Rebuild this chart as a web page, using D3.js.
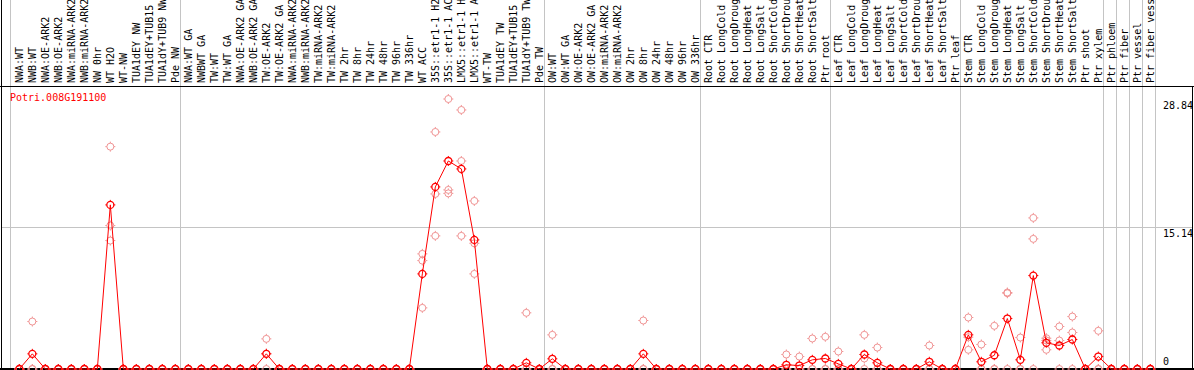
<!DOCTYPE html>
<html>
<head>
<meta charset="utf-8">
<script src="https://cdn.jsdelivr.net/npm/d3@7"></script>
<style>
  body { margin: 0; background: #fff; }
  text { font-family: "DejaVu Sans Mono", monospace; }
</style>
</head>
<body>
<div id="chart"></div>
<script>
// gene shown in the plot
const geneName = "Potri.008G191100";

// sample names, one per column
const samples = [
  "NWA:WT", "NWB:WT", "NWA:OE-ARK2", "NWB:OE-ARK2", "NWA:miRNA-ARK2", "NWB:miRNA-ARK2",
  "NW 0hr", "WT H2O", "WT-NW", "TUA1dEY NW", "TUA1dEY+TUB15 NW", "TUA1dY+TUB9 NW", "Pde NW",
  "NWA:WT GA", "NWBWT GA", "TW:WT", "TW:WT GA", "NWA:OE-ARK2 GA", "NWB:OE-ARK2 GA",
  "TW:OE-ARK2", "TW:OE-ARK2 GA", "NWA:miRNA-ARK2", "NWB:miRNA-ARK2", "TW:miRNA-ARK2",
  "TW:miRNA-ARK2", "TW 2hr", "TW 8hr", "TW 24hr", "TW 48hr", "TW 96hr", "TW 336hr",
  "WT ACC", "35S::etr1-1 H2O", "35S::etr1-1 ACC", "LMX5::etr1-1 H2O", "LMX5::etr1-1 ACC",
  "WT-TW", "TUA1dEY TW", "TUA1dEY+TUB15 TW", "TUA1dY+TUB9 TW", "Pde TW",
  "OW:WT", "OW:WT GA", "OW:OE-ARK2", "OW:OE-ARK2 GA", "OW:miRNA-ARK2", "OW:miRNA-ARK2",
  "OW 2hr", "OW 8hr", "OW 24hr", "OW 48hr", "OW 96hr", "OW 336hr",
  "Root CTR", "Root LongCold", "Root LongDrought", "Root LongHeat", "Root LongSalt",
  "Root ShortCold", "Root ShortDrought", "Root ShortHeat", "Root ShortSalt", "Ptr root",
  "Leaf CTR", "Leaf LongCold", "Leaf LongDrought", "Leaf LongHeat", "Leaf LongSalt",
  "Leaf ShortCold", "Leaf ShortDrought", "Leaf ShortHeat", "Leaf ShortSalt", "Ptr leaf",
  "Stem CTR", "Stem LongCold", "Stem LongDrought", "Stem LongHeat", "Stem LongSalt",
  "Stem ShortCold", "Stem ShortDrought", "Stem ShortHeat", "Stem ShortSalt", "Ptr shoot",
  "Ptr xylem", "Ptr phloem", "Ptr fiber", "Ptr vessel", "Ptr fiber vessel"
];

// last column index of each sample group (a grey separator follows it)
const groupEnds = [12, 40, 52, 62, 72, 83, 84, 85, 86, 87];

// mean expression per sample (the red line)
const meanValues = [
  0, 1.62, 0, 0, 0, 0, 0, 17.53, 0, 0,
  0, 0, 0, 0, 0, 0, 0, 0, 0, 1.62,
  0, 0, 0, 0, 0, 0, 0, 0, 0, 0,
  0, 10.16, 19.45, 22.22, 21.37, 13.79, 0, 0, 0, 0.66,
  0, 1.09, 0, 0, 0, 0, 0, 0, 1.62, 0,
  0, 0, 0, 0, 0, 0, 0, 0, 0, 0.45,
  0.37, 0.98, 1.12, 0.55, 0, 1.55, 0.66, 0, 0, 0,
  0.77, 0, 0, 3.65, 0.77, 1.47, 5.39, 0.98, 9.98, 2.8,
  2.51, 3.15, 0, 1.33, 0, 0, 0, 0
];

// replicate values (pink circles)
const rep1 = [
  0, 5.07, 0, 0, 0, 0, 0, 23.75, 0, 0,
  0, 0, 0, 0, 0, 0, 0, 0, 0, 3.22,
  0, 0, 0, 0, 0, 0, 0, 0, 0, 0,
  0, 12.3, 25.32, 28.84, 27.67, 17.95, 0, 0, 0, 6.0,
  0, 3.65, 0, 0, 0, 0, 0, 0, 5.18, 0,
  0, 0, 0, 0, 0, 0, 0, 0, 0, 1.55,
  1.33, 3.26, 3.44, 1.87, 0, 3.65, 2.29, 0, 0, 0,
  2.51, 0, 0, 5.5, 2.62, 4.61, 8.09, 3.36, 16.14, 3.29,
  4.54, 5.6, 0, 4.08, 0, 0, 0, 0
];
const rep2 = [
  0, 0, 0, 0, 0, 0, 0, 15.32, 0, 0,
  0, 0, 0, 0, 0, 0, 0, 0, 0, 1.64,
  0, 0, 0, 0, 0, 0, 0, 0, 0, 0,
  0, 11.58, 18.7, 19.13, 22.22, 13.43, 0, 0, 0, 0,
  0, 0, 0, 0, 0, 0, 0, 0, 0, 0,
  0, 0, 0, 0, 0, 0, 0, 0, 0, 0,
  0, 0, 0, 0, 0, 1.12, 0, 0, 0, 0,
  0, 0, 0, 2.05, 0, 0, 8.17, 0, 13.9, 2.05,
  3.04, 3.9, 0, 0, 0, 0, 0, 0
];
const rep3 = [
  0, 0, 0, 0, 0, 0, 0, 13.72, 0, 0,
  0, 0, 0, 0, 0, 0, 0, 0, 0, 0,
  0, 0, 0, 0, 0, 0, 0, 0, 0, 0,
  0, 6.53, 14.22, 18.76, 14.22, 10.16, 0, 0, 0, 0,
  0, 0, 0, 0, 0, 0, 0, 0, 0, 0,
  0, 0, 0, 0, 0, 0, 0, 0, 0, 0,
  0, 0, 0, 0, 0, 0, 0, 0, 0, 0,
  0, 0, 0, 3.4, 0, 0, 0, 0, 0, 3.05,
  0, 0, 0, 0, 0, 0, 0, 0
];

// y labels on the right
const yTicks = [0, 15.14, 28.84];

let width = 1194, height = 370;
let margin = {top: 86, bottom: 1, left: 1, right: 2};

let svg = d3.select("#chart")
  .append("svg")
  .attr("width", width)
  .attr("height", height)
  .style("display", "block");

// columns are evenly spaced points
let xScale = d3.scalePoint()
  .domain(d3.range(samples.length))
  .range([19.33, 19.33 + 13 * (samples.length - 1)]);

let yScale = d3.scaleLinear()
  .domain([0, d3.max(yTicks)])
  .range([369, 99]);

// grey group separators (also one before the first column)
let sepX = [xScale(0) - 9].concat(groupEnds.map(i => xScale(i) + 5));
svg.selectAll(".sep")
  .data(sepX)
  .enter()
  .append("line")
  .attr("x1", d => Math.round(d) + 0.5)
  .attr("x2", d => Math.round(d) + 0.5)
  .attr("y1", 0)
  .attr("y2", height)
  .attr("stroke", "#c4c4c4")
  .attr("shape-rendering", "crispEdges");

// horizontal grid at the middle tick
svg.append("line")
  .attr("x1", margin.left)
  .attr("x2", width - margin.right)
  .attr("y1", Math.round(yScale(yTicks[1])) + 0.5)
  .attr("y2", Math.round(yScale(yTicks[1])) + 0.5)
  .attr("stroke", "#c4c4c4")
  .attr("shape-rendering", "crispEdges");

// frame
svg.append("line")
  .attr("x1", 0).attr("x2", width)
  .attr("y1", margin.top + 0.5).attr("y2", margin.top + 0.5)
  .attr("stroke", "black").attr("shape-rendering", "crispEdges");
svg.append("line")
  .attr("x1", 1.5).attr("x2", 1.5)
  .attr("y1", 0).attr("y2", height)
  .attr("stroke", "black").attr("shape-rendering", "crispEdges");
svg.append("line")
  .attr("x1", width - margin.right + 0.5).attr("x2", width - margin.right + 0.5)
  .attr("y1", margin.top).attr("y2", height)
  .attr("stroke", "black").attr("shape-rendering", "crispEdges");
svg.append("line")
  .attr("x1", 0).attr("x2", width)
  .attr("y1", height - 1).attr("y2", height - 1)
  .attr("stroke", "black").attr("stroke-width", 2)
  .attr("shape-rendering", "crispEdges");

// sample labels, rotated
svg.selectAll(".sample")
  .data(samples)
  .enter()
  .append("text")
  .attr("transform", (d, i) => `translate(${xScale(i) + 3.5},${margin.top - 3}) rotate(-90)`)
  .style("font-size", "10px")
  .attr("fill", "black")
  .text(d => d);

// gene name
svg.append("text")
  .attr("x", 10)
  .attr("y", 101)
  .style("font-size", "10px")
  .attr("fill", "red")
  .text(geneName);

// y labels
svg.selectAll(".ylab")
  .data(yTicks)
  .enter()
  .append("text")
  .attr("x", 1163)
  .attr("y", d => Math.min(yScale(d) + 10, height - 5))
  .style("font-size", "10px")
  .attr("fill", "black")
  .text(d => d === 0 ? "0" : d.toFixed(2));

// circle marker with small ticks
function marker(g, color, sw) {
  g.append("circle")
    .attr("r", 3.5)
    .attr("fill", "none")
    .attr("stroke", color)
    .attr("stroke-width", sw);
  g.append("path")
    .attr("d", "M0,-3.5V-5M0,3.5V5M-3.5,0H-5M3.5,0H5")
    .attr("stroke", color)
    .attr("stroke-width", 1);
}

// replicates
let reps = [];
[rep1, rep2, rep3].forEach(r => r.forEach((v, i) => reps.push({i: i, v: v})));
svg.selectAll(".rep")
  .data(reps)
  .enter()
  .append("g")
  .attr("transform", d => `translate(${xScale(d.i)},${yScale(d.v)})`)
  .each(function() { marker(d3.select(this), "#f09494", 1); });

// mean line
let line = d3.line()
  .x((d, i) => xScale(i))
  .y(d => yScale(d));

svg.append("path")
  .datum(meanValues)
  .attr("d", line)
  .attr("fill", "none")
  .attr("stroke", "red")
  .attr("stroke-width", 1);

// mean points
svg.selectAll(".mean")
  .data(meanValues)
  .enter()
  .append("g")
  .attr("transform", (d, i) => `translate(${xScale(i)},${yScale(d)})`)
  .each(function() { marker(d3.select(this), "red", 1.3); });
</script>
</body>
</html>
